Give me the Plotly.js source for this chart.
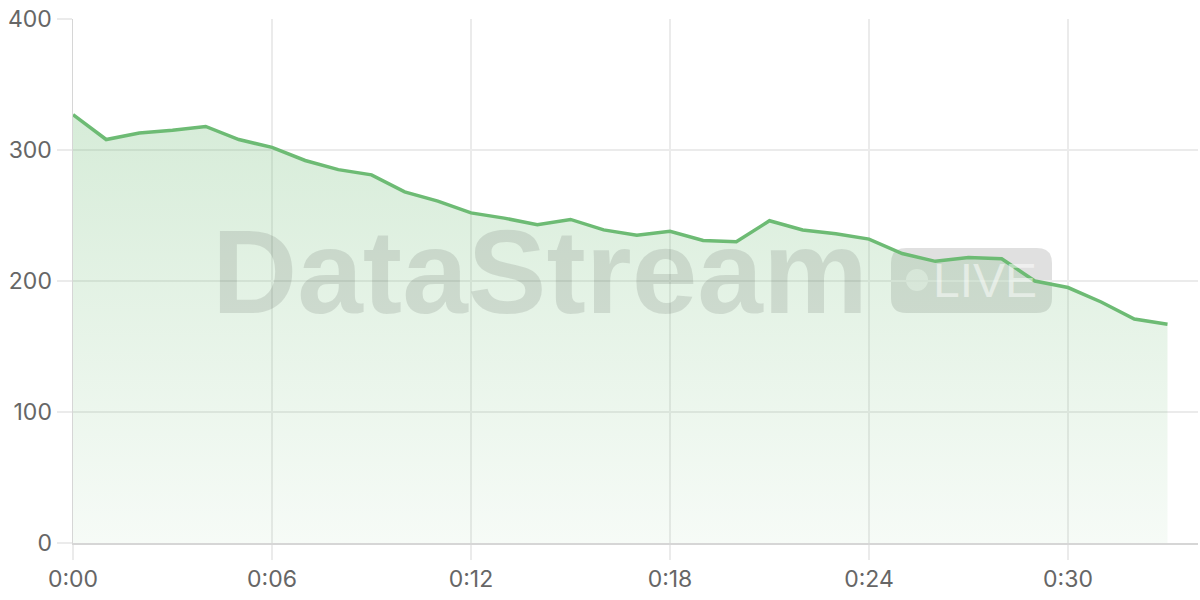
<!DOCTYPE html>
<html>
<head>
<meta charset="utf-8">
<script src="https://cdn.plot.ly/plotly-3.0.1.min.js"></script>
<style>
html,body{margin:0;padding:0;background:#fff;}
#chart{width:1200px;height:600px;}
</style>
</head>
<body>
<div id="chart"></div>
<script>
var minutes = [0,1,2,3,4,5,6,7,8,9,10,11,12,13,14,15,16,17,18,19,20,21,22,23,24,25,26,27,28,29,30,31,32,33];
var values = [327,308,313,315,318,308,302,292,285,281,268,261,252,248,243,247,239,235,238,231,230,246,239,236,232,221,215,218,217,200,195,184,171,167];
var tickVals = [0,6,12,18,24,30];
var tickLabels = ['0:00','0:06','0:12','0:18','0:24','0:30'];
var yTicks = [0,100,200,300,400];

var green = '#6dbb74';
var trace = {
  x: minutes, y: values, type: 'scatter', mode: 'lines',
  line: {color: green, width: 3.5},
  fill: 'tozeroy',
  fillgradient: {type: 'vertical', start: 0, stop: 330,
    colorscale: [[0,'rgba(109,187,116,0.06)'],[1,'rgba(109,187,116,0.28)']]},
  hoverinfo: 'skip'
};

var W = 1125, H = 524;
function px(v){return (v-73)/W;}
function py(v){return (543-v)/H;}
var x0=px(891), x1=px(1052), yt=py(248), yb=py(313);
var rx=15/W, ry=15/H;
var pill = 'M '+(x0+rx)+','+yt+' L '+(x1-rx)+','+yt+' Q '+x1+','+yt+' '+x1+','+(yt-ry)+
  ' L '+x1+','+(yb+ry)+' Q '+x1+','+yb+' '+(x1-rx)+','+yb+' L '+(x0+rx)+','+yb+
  ' Q '+x0+','+yb+' '+x0+','+(yb+ry)+' L '+x0+','+(yt-ry)+' Q '+x0+','+yt+' '+(x0+rx)+','+yt+' Z';

var layout = {
  width: 1200, height: 600,
  margin: {l: 73, r: 2, t: 19, b: 57},
  paper_bgcolor: '#fff', plot_bgcolor: '#fff',
  showlegend: false,
  font: {family: 'Inter, "Liberation Sans", sans-serif', color: '#666', size: 23},
  xaxis: {
    range: [0, 33.92], tickvals: tickVals, ticktext: tickLabels,
    showgrid: true, gridcolor: '#ebebeb', gridwidth: 1.3,
    ticks: 'outside', ticklen: 15, tickcolor: '#ebebeb', tickwidth: 1.3,
    showline: true, linecolor: '#d6d6d6', linewidth: 1.5,
    zeroline: false, tickfont: {size: 23, color: '#666'}
  },
  yaxis: {
    range: [0, 400], tickvals: yTicks,
    showgrid: true, gridcolor: '#ebebeb', gridwidth: 1.3,
    ticks: 'outside', ticklen: 15, tickcolor: '#ebebeb', tickwidth: 1.3,
    showline: true, linecolor: '#d6d6d6', linewidth: 1.5,
    zeroline: false, tickfont: {size: 23, color: '#666'}
  },
  shapes: [
    {type: 'path', xref: 'paper', yref: 'paper', path: pill,
     fillcolor: 'rgba(0,0,0,0.12)', line: {width: 0}, layer: 'below'},
    {type: 'circle', xref: 'paper', yref: 'paper', x0: px(906), x1: px(928), y0: py(291), y1: py(269),
     fillcolor: 'rgba(255,255,255,0.55)', line: {width: 0}, layer: 'below'}
  ],
  annotations: [
    {text: 'DataStream', xref: 'paper', yref: 'paper', x: px(540), y: py(271.5),
     xanchor: 'center', yanchor: 'middle', showarrow: false,
     font: {family: '"Liberation Sans", Arial, sans-serif', size: 118, weight: 'bold', color: 'rgba(0,0,0,0.1)'}},
    {text: 'LIVE', xref: 'paper', yref: 'paper', x: px(985), y: py(280),
     xanchor: 'center', yanchor: 'middle', showarrow: false,
     font: {family: '"Liberation Sans", Arial, sans-serif', size: 48, color: 'rgba(255,255,255,0.5)'}}
  ]
};

Plotly.newPlot('chart', [trace], layout, {displayModeBar: false, staticPlot: true});
</script>
</body>
</html>
